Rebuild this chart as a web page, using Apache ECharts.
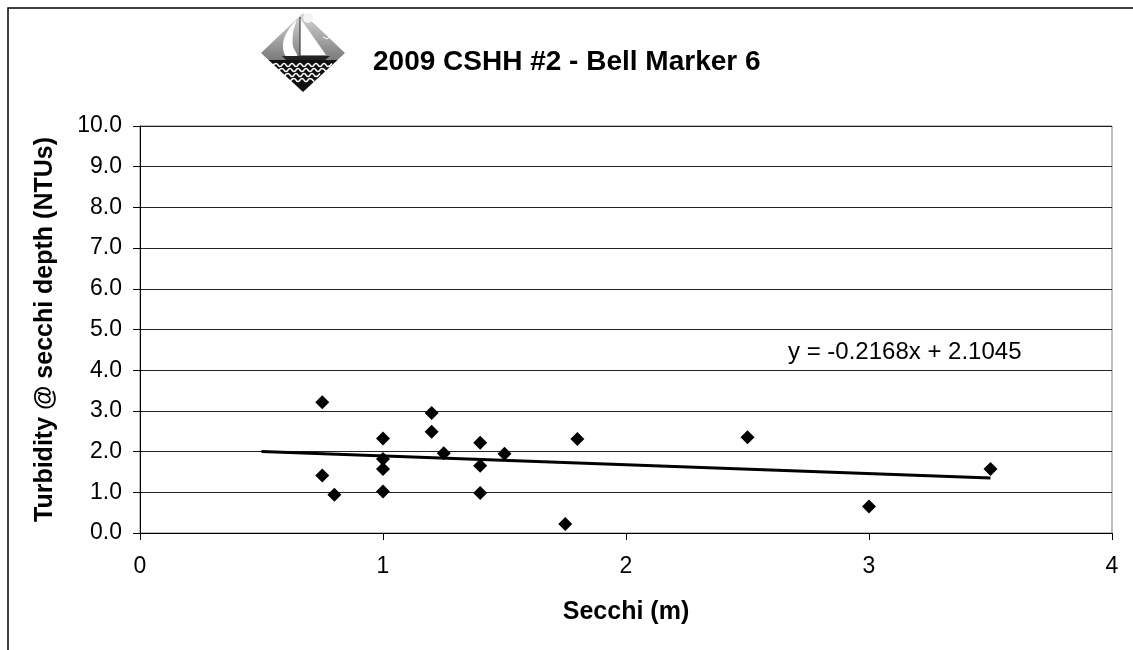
<!DOCTYPE html>
<html>
<head>
<meta charset="utf-8">
<script src="https://cdn.jsdelivr.net/npm/echarts@6/dist/echarts.min.js"></script>
<style>
  html, body { margin: 0; padding: 0; background: #fff; }
  #chart { width: 1133px; height: 650px; }
</style>
</head>
<body>
<div id="chart"></div>
<script>
// secchi depth (m) and turbidity (NTU)
const secchi = [0.75, 0.75, 0.8, 1.0, 1.0, 1.0, 1.0, 1.2, 1.2, 1.25, 1.4, 1.4, 1.4, 1.5, 1.75, 1.8, 2.5, 3.0, 3.5]
const turbidity = [3.21, 1.41, 0.94, 2.32, 1.82, 1.57, 1.02, 2.95, 2.49, 1.96, 2.22, 1.65, 0.98, 1.95, 0.22, 2.31, 2.35, 0.65, 1.57]
// trendline end points as drawn
const trendX = [0.5, 3.5]
const trendY = [2.0, 1.35]
const yTicks = [0, 10, 1]
const xTicks = [0, 4, 1]

const font = 'Liberation Sans, Arial, sans-serif'

const points = secchi.map((x, i) => [x, turbidity[i]])
const trend = trendX.map((x, i) => [x, trendY[i]])

// wavy line for the logo water
function wave(x0, x1, y) {
  const pts = []
  for (let x = x0, k = 0; x <= x1; x += 4, k++) {
    pts.push([x, y + (k % 2 ? -1.5 : 1.5)])
  }
  return pts
}

const chart = echarts.init(document.getElementById('chart'))

const option = {
  animation: false,
  backgroundColor: '#fff',
  textStyle: { fontFamily: font },
  grid: {
    left: 140,
    right: 21,
    top: 126,
    bottom: 117,
    show: true,
    borderColor: '#808080',
    borderWidth: 1
  },
  xAxis: {
    type: 'value',
    min: xTicks[0],
    max: xTicks[1],
    interval: xTicks[2],
    name: 'Secchi (m)',
    nameLocation: 'middle',
    nameGap: 67,
    nameTextStyle: { fontSize: 25, fontWeight: 'bold', color: '#000', fontFamily: font },
    axisLine: { show: true, lineStyle: { color: '#000', width: 1 } },
    axisTick: { show: true, length: 7, lineStyle: { color: '#000' } },
    axisLabel: { fontSize: 23, color: '#000', margin: 22, fontFamily: font },
    splitLine: { show: false }
  },
  yAxis: {
    type: 'value',
    min: yTicks[0],
    max: yTicks[1],
    interval: yTicks[2],
    name: 'Turbidity @ secchi depth (NTUs)',
    nameLocation: 'middle',
    nameGap: 82,
    nameTextStyle: { fontSize: 25, fontWeight: 'bold', color: '#000', fontFamily: font },
    axisLine: { show: true, lineStyle: { color: '#000', width: 1 } },
    axisTick: { show: true, length: 7, lineStyle: { color: '#000' } },
    axisLabel: {
      fontSize: 23, color: '#000', margin: 18, fontFamily: font,
      formatter: v => v.toFixed(1)
    },
    splitLine: { show: true, lineStyle: { color: '#222', width: 1 } }
  },
  series: [
    {
      type: 'scatter',
      data: points,
      symbol: 'diamond',
      symbolSize: [14, 14],
      itemStyle: { color: '#000', opacity: 1 },
      z: 3
    },
    {
      type: 'line',
      data: trend,
      showSymbol: false,
      symbol: 'none',
      lineStyle: { color: '#000', width: 3 },
      z: 2
    }
  ],
  graphic: [
    // outer chart frame
    { type: 'rect', shape: { x: 8, y: 8, width: 1300, height: 800 }, style: { fill: 'none', stroke: '#000', lineWidth: 1.5 }, silent: true },
    // title
    {
      type: 'text', x: 373, y: 48,
      style: { text: '2009 CSHH #2 - Bell Marker 6', font: 'bold 28px ' + font, fill: '#000' }
    },
    // trendline equation
    {
      type: 'text', x: 788, y: 340,
      style: { text: 'y = -0.2168x + 2.1045', font: '24px ' + font, fill: '#000' }
    },
    // logo: sky
    {
      type: 'polygon',
      shape: { points: [[303, 13], [345, 53], [337.5, 60], [268.5, 60], [261, 53]] },
      style: {
        fill: new echarts.graphic.LinearGradient(0, 0, 0, 1, [
          { offset: 0, color: '#d8d8d8' },
          { offset: 1, color: '#7a7a7a' }
        ])
      }
    },
    // logo: water
    { type: 'polygon', shape: { points: [[268.5, 60], [337.5, 60], [303, 92]] }, style: { fill: '#111' } },
    // sun
    { type: 'circle', shape: { cx: 308, cy: 18, r: 5 }, style: { fill: '#f4f4f4' } },
    // bird
    { type: 'polyline', shape: { points: [[323, 37], [327, 39], [331, 36]] }, style: { stroke: '#fff', lineWidth: 1 } },
    // jib
    {
      type: 'polygon',
      shape: { points: [[296, 21], [289, 29], [284, 39], [283, 48], [286, 56], [297, 56], [293, 46], [293, 33]], smooth: 0.3 },
      style: { fill: '#fff' }
    },
    // main sail
    { type: 'polygon', shape: { points: [[300, 18], [300, 55], [326, 55]] }, style: { fill: '#fff' } },
    // mast
    { type: 'line', shape: { x1: 300, y1: 17, x2: 300, y2: 58 }, style: { stroke: '#222', lineWidth: 1 } },
    // hull
    { type: 'polygon', shape: { points: [[282, 56], [330, 56], [325, 60], [286, 60]] }, style: { fill: '#222' } },
    // waves
    { type: 'polyline', shape: { points: wave(272, 334, 65), smooth: 0.5 }, style: { stroke: '#fff', lineWidth: 1.5 } },
    { type: 'polyline', shape: { points: wave(278, 328, 70), smooth: 0.5 }, style: { stroke: '#fff', lineWidth: 1.5 } },
    { type: 'polyline', shape: { points: wave(284, 322, 75), smooth: 0.5 }, style: { stroke: '#fff', lineWidth: 1.5 } },
    { type: 'polyline', shape: { points: wave(290, 316, 80), smooth: 0.5 }, style: { stroke: '#fff', lineWidth: 1.5 } }
  ]
}

chart.setOption(option)
</script>
</body>
</html>
